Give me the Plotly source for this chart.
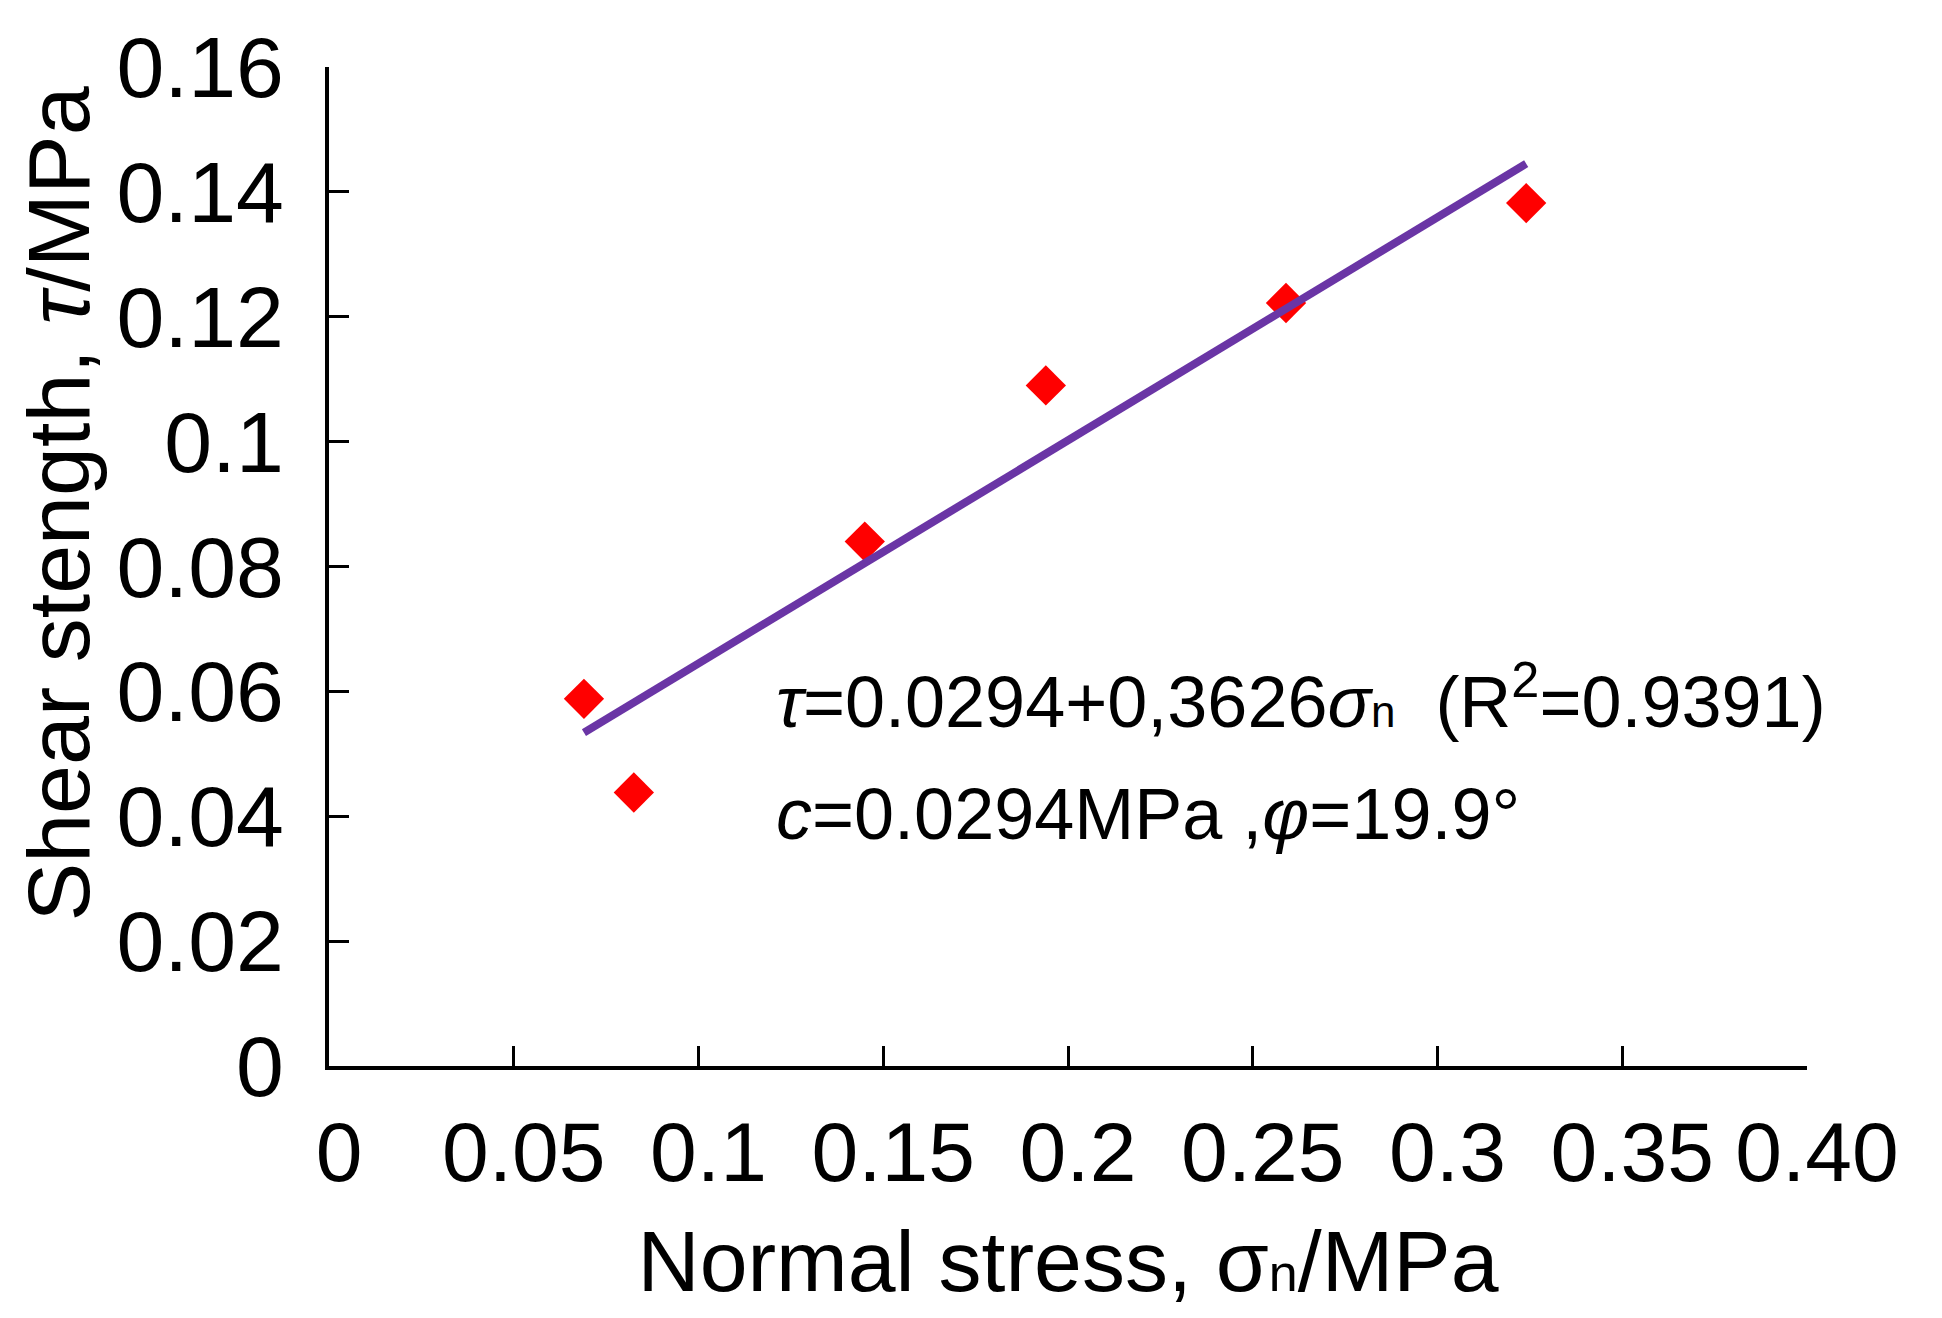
import numpy as np
import plotly.graph_objects as go

# measured points (normal stress vs shear strength, MPa)
normal_stress = [0.069, 0.0825, 0.145, 0.194, 0.259, 0.324]
shear_strength = [0.0588, 0.0438, 0.0840, 0.1090, 0.1222, 0.1382]

x_ticks = [0, 0.05, 0.1, 0.15, 0.2, 0.25, 0.3, 0.35, 0.4]
x_ticktext = ["0", "0.05", "0.1", "0.15", "0.2", "0.25", "0.3", "0.35", "0.40"]
y_ticks = [0, 0.02, 0.04, 0.06, 0.08, 0.1, 0.12, 0.14, 0.16]
y_ticktext = ["0", "0.02", "0.04", "0.06", "0.08", "0.1", "0.12", "0.14", "0.16"]

FONT = "Liberation Sans, Arial, sans-serif"

# least-squares line through the points
slope, intercept = np.polyfit(normal_stress, shear_strength, 1)
fit_x = np.array([min(normal_stress), max(normal_stress)])
fit_y = intercept + slope * fit_x

fig = go.Figure()
fig.add_trace(go.Scatter(x=normal_stress, y=shear_strength, mode='markers',
                         marker=dict(symbol='diamond', size=31, color='#FF0000', line=dict(width=0)),
                         showlegend=False))
fig.add_trace(go.Scatter(x=fit_x, y=fit_y, mode='lines',
                         line=dict(color='#6A35A5', width=8), showlegend=False))

fig.add_annotation(x=0.1205, y=0.0591, xref='x', yref='y', xanchor='left', yanchor='middle', showarrow=False,
                   text="<i>τ</i>=0.0294+0,3626<i>σ</i>" + '<span style="font-size:44px">n</span>'
                        + "  (R<sup>2</sup>=0.9391)",
                   font=dict(family=FONT, size=72, color='black'))
fig.add_annotation(x=0.1205, y=0.0403, xref='x', yref='y', xanchor='left', yanchor='middle', showarrow=False,
                   text="<i>c</i>=0.0294MPa ,<i>φ</i>=19.9°",
                   font=dict(family=FONT, size=72, color='black'))

# y axis title placed as annotation (sits above the axis centre in the reference)
fig.add_annotation(x=0, y=0.562, xref='paper', yref='paper', xanchor='center', yanchor='middle',
                   xshift=-270, textangle=-90, showarrow=False,
                   text="Shear stength, <i>τ</i>/MPa",
                   font=dict(family=FONT, size=88, color='black'))

fig.update_layout(
    width=1942, height=1318,
    margin=dict(l=321, r=143, t=59, b=260),
    paper_bgcolor='white', plot_bgcolor='white',
    font=dict(family=FONT, size=80, color='black'),
    xaxis=dict(range=[0, 0.4], tickvals=x_ticks, ticktext=x_ticktext, automargin=False,
               showline=True, linecolor='black', linewidth=4, showgrid=False, zeroline=False,
               ticks='inside', ticklen=20, tickwidth=3, tickcolor='black',
               ticklabelstandoff=10, ticklabelshift=10, tickfont=dict(size=84),
               title=dict(text="Normal stress, σ" + '<span style="font-size:52px">n</span>' + "/MPa",
                          font=dict(size=86), standoff=34)),
    yaxis=dict(range=[0, 0.16], tickvals=y_ticks, ticktext=y_ticktext, automargin=False,
               showline=True, linecolor='black', linewidth=4, showgrid=False, zeroline=False,
               ticks='inside', ticklen=20, tickwidth=3, tickcolor='black',
               ticklabelstandoff=24, tickfont=dict(size=86)),
)

fig.write_html("out.html")
